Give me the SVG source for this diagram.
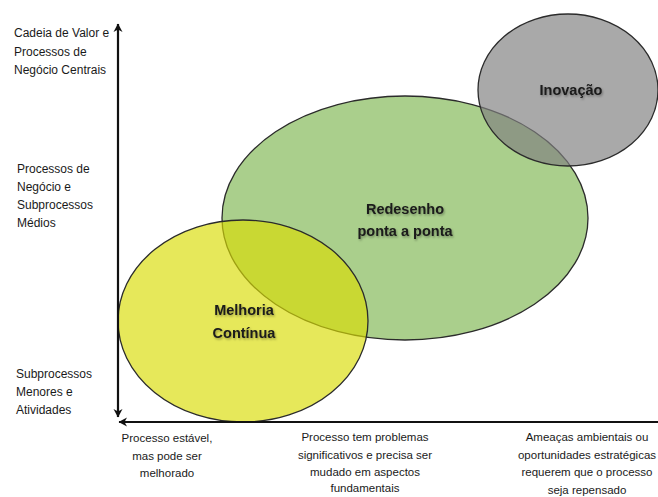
<svg xmlns="http://www.w3.org/2000/svg" width="658" height="497" viewBox="0 0 658 497">
<defs>
<style>
.lbl{font-family:"Liberation Sans",Arial,sans-serif;font-size:12px;fill:#1a1a1a}
.bl{font-family:"Liberation Sans",Arial,sans-serif;font-size:11.5px;fill:#1a1a1a;text-anchor:middle}
.nt{font-family:"Liberation Sans",Arial,sans-serif;font-size:14.5px;font-weight:bold;fill:#1a1a1a;text-anchor:middle;filter:url(#sh)}
.ell{stroke:#2b2b2b;stroke-width:1.3}
.axis{stroke:#111;stroke-width:2.2;fill:none}
</style>
<filter id="sh" x="-20%" y="-40%" width="140%" height="180%">
<feDropShadow dx="1" dy="1.5" stdDeviation="1" flood-color="#000" flood-opacity="0.35"/>
</filter>
<marker id="arr" viewBox="0 0 10 10" refX="9" refY="5" markerWidth="10" markerHeight="10" markerUnits="userSpaceOnUse" orient="auto-start-reverse">
<path d="M1,0.5 L9.5,5 L1,9.5 L3.5,5 Z" fill="#111"/>
</marker>
</defs>
<rect width="658" height="497" fill="#ffffff"/>

<g id="redesenho">
<ellipse class="ell" cx="405" cy="218" rx="183" ry="122" fill="#aacf8c"/>
<text class="nt" x="405" y="214">Redesenho</text>
<text class="nt" x="405" y="236">ponta a ponta</text>
</g>

<g id="melhoria">
<ellipse class="ell" cx="243" cy="321" rx="125" ry="101" fill="#d9dc05" fill-opacity="0.66"/>
<text class="nt" x="244" y="315">Melhoria</text>
<text class="nt" x="244" y="338">Contínua</text>
</g>

<g id="inovacao">
<ellipse class="ell" cx="568" cy="90" rx="90" ry="76" fill="#808080" fill-opacity="0.68"/>
<text class="nt" x="571" y="95">Inovação</text>
</g>

<g id="connectors">
<line class="axis" x1="118" y1="24" x2="118" y2="417" marker-start="url(#arr)" marker-end="url(#arr)"/>
<line class="axis" x1="658" y1="422" x2="119" y2="422" marker-end="url(#arr)"/>
</g>

<g id="y-labels">
<text class="lbl" x="14" y="37">Cadeia de Valor e</text>
<text class="lbl" x="14" y="56">Processos de</text>
<text class="lbl" x="14" y="74">Negócio Centrais</text>
<text class="lbl" x="17" y="173">Processos de</text>
<text class="lbl" x="17" y="191">Negócio e</text>
<text class="lbl" x="17" y="209">Subprocessos</text>
<text class="lbl" x="17" y="227">Médios</text>
<text class="lbl" x="16" y="378">Subprocessos</text>
<text class="lbl" x="16" y="396">Menores e</text>
<text class="lbl" x="16" y="414">Atividades</text>
</g>

<g id="x-labels">
<text class="bl" x="167" y="442">Processo estável,</text>
<text class="bl" x="167" y="460">mas pode ser</text>
<text class="bl" x="167" y="477">melhorado</text>
<text class="bl" x="365" y="441">Processo tem problemas</text>
<text class="bl" x="365" y="459">significativos e precisa ser</text>
<text class="bl" x="365" y="476">mudado em aspectos</text>
<text class="bl" x="365" y="492">fundamentais</text>
<text class="bl" x="587" y="441">Ameaças ambientais ou</text>
<text class="bl" x="587" y="459">oportunidades estratégicas</text>
<text class="bl" x="587" y="476">requerem que o processo</text>
<text class="bl" x="587" y="494">seja repensado</text>
</g>
</svg>
